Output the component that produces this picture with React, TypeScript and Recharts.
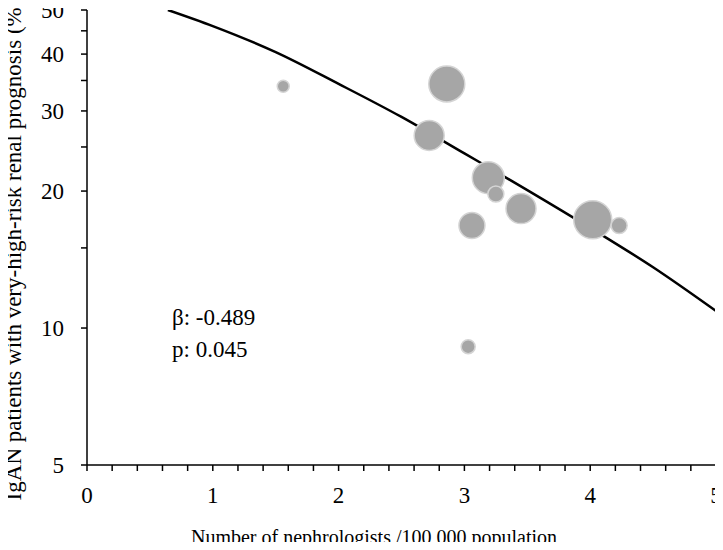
import { ComposedChart, Line, Scatter, XAxis, YAxis, ZAxis } from 'recharts'

// prefecture-level bubbles
const nephrologists = [1.56, 2.86, 2.72, 3.19, 3.25, 3.45, 3.06, 4.02, 4.23, 3.03]
const highRiskPct = [34.0, 34.4, 26.5, 21.4, 19.7, 18.3, 16.8, 17.3, 16.8, 9.1]
const bubbleWeight = [36, 324, 225, 256, 64, 225, 169, 361, 64, 49]

// fitted curve
const fitX = [0.643, 1, 1.5, 2, 2.5, 3, 3.5, 4, 4.5, 5]
const fitY = [50, 46.1, 40.4, 34.4, 29.1, 24.2, 20.1, 16.6, 13.6, 10.9]

const xTicks = [
  0, 0.2, 0.4, 0.6, 0.8, 1, 1.2, 1.4, 1.6, 1.8, 2, 2.2, 2.4, 2.6, 2.8, 3, 3.2, 3.4, 3.6, 3.8, 4, 4.2,
  4.4, 4.6, 4.8, 5,
]
const xLabelled = [0, 1, 2, 3, 4, 5]
const yTicks = [5, 10, 15, 20, 25, 30, 35, 40, 45, 50]
const yLabelled = [5, 10, 20, 30, 40, 50]

const bubbles = nephrologists.map((x, i) => ({ x, y: highRiskPct[i], z: bubbleWeight[i] }))
const fit = fitX.map((x, i) => ({ x, y: fitY[i] }))

const font = '"Liberation Serif", "Times New Roman", serif'
const axisStroke = { stroke: '#000', strokeWidth: 1.5 }

function YTitle() {
  return (
    <text
      x={21}
      y={250}
      transform="rotate(-90 21 250)"
      textAnchor="middle"
      fill="#000"
      fontSize={23}
      fontFamily={font}
    >
      IgAN patients with very-high-risk renal prognosis (%)
    </text>
  )
}

function XTitle() {
  return (
    <text x={374} y={544} textAnchor="middle" fill="#000" fontSize={20} fontFamily={font}>
      Number of nephrologists /100,000 population
    </text>
  )
}

export default function App() {
  return (
    <div style={{ position: 'relative', width: 723, height: 550, margin: -8, fontFamily: font }}>
      <ComposedChart
        width={723}
        height={550}
        margin={{ top: 10, right: 7, left: 0, bottom: 0 }}
        style={{ fontFamily: font }}
      >
        <XAxis
          type="number"
          dataKey="x"
          domain={[0, 5]}
          ticks={xTicks}
          interval={0}
          tickFormatter={(v: number) => (xLabelled.includes(Math.round(v * 10) / 10) ? String(v) : '')}
          tick={{ fill: '#000', fontSize: 23, fontFamily: font }}
          tickLine={axisStroke}
          axisLine={axisStroke}
          tickSize={6}
          tickMargin={16}
          height={85}
          label={<XTitle />}
        />
        <YAxis
          type="number"
          scale="log"
          domain={[5, 50]}
          allowDataOverflow
          ticks={yTicks}
          interval={0}
          tickFormatter={(v: number) => (yLabelled.includes(v) ? String(v) : '')}
          tick={{ fill: '#000', fontSize: 23, fontFamily: font }}
          tickLine={axisStroke}
          axisLine={axisStroke}
          tickSize={6}
          tickMargin={17}
          width={87}
          label={<YTitle />}
        />
        <ZAxis type="number" dataKey="z" domain={[0, 400]} range={[0, 400 * Math.PI]} />
        <Line
          data={fit}
          dataKey="y"
          type="monotone"
          stroke="#000"
          strokeWidth={2.5}
          dot={false}
          activeDot={false}
          isAnimationActive={false}
        />
        <Scatter
          data={bubbles}
          dataKey="y"
          fill="#a6a6a6"
          stroke="#d4d4d4"
          strokeWidth={1.5}
          isAnimationActive={false}
        />
      </ComposedChart>
      <div
        style={{
          position: 'absolute',
          left: 172,
          top: 302,
          fontSize: 23,
          lineHeight: '32px',
          color: '#000',
        }}
      >
        <div>β: -0.489</div>
        <div>p: 0.045</div>
      </div>
    </div>
  )
}
